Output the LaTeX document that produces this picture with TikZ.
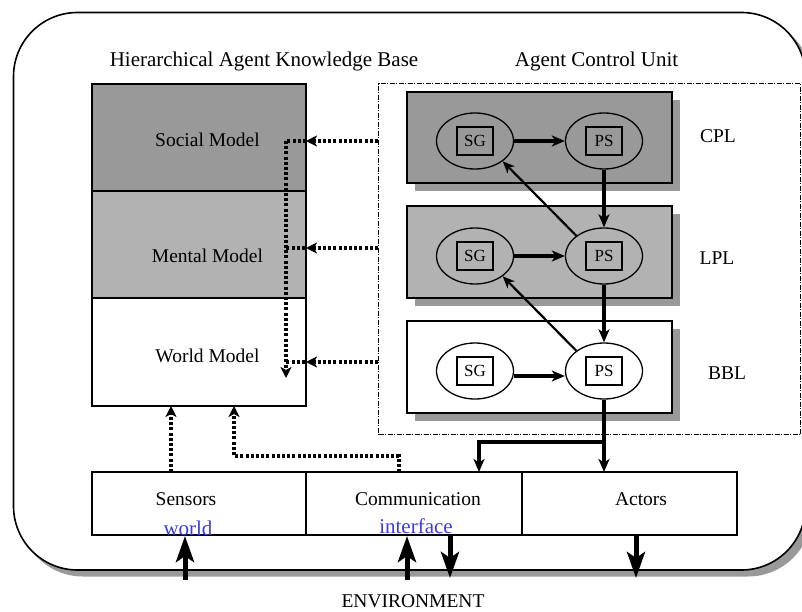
\documentclass[tikz,border=0pt]{standalone}
\usepackage{fontspec}
\setmainfont{Liberation Serif}
\usetikzlibrary{arrows.meta,shapes.geometric,calc}
\definecolor{dgray}{gray}{0.6}
\definecolor{lgray}{gray}{0.7}
\definecolor{lnk}{RGB}{60,60,220}
\begin{document}
\begin{tikzpicture}[x=1pt,y=-1pt,
  txt/.style={font=\fontsize{19.5}{23}\selectfont, anchor=base, inner sep=0pt},
  ttl/.style={font=\fontsize{21}{25}\selectfont, anchor=base, inner sep=0pt},
  box/.style={draw, line width=1.3pt, anchor=north west, inner sep=0pt, outer sep=0pt},
  ell/.style={draw, ellipse, line width=1.3pt, minimum width=77pt, minimum height=56pt, inner sep=0pt},
  sq/.style={draw, line width=2.2pt, minimum width=36pt, minimum height=28pt, inner sep=0pt, font=\fontsize{17}{19}\selectfont},
  thk/.style={line width=3.6pt, -{Stealth[length=13pt,width=11pt,inset=3.5pt]}},
  thn/.style={line width=2.2pt, -{Stealth[length=12pt,width=10pt,inset=3.5pt]}},
  dotl/.style={line width=3.2pt, dash pattern=on 3pt off 2.2pt},
  dota/.style={dotl, -{Stealth[length=11pt,width=11pt,inset=3pt]}},
  big/.style={line width=5pt, -{Stealth[length=26pt,width=18pt,inset=6pt]}},
  acus/.style={draw, line width=1.1pt, dash pattern=on 5pt off 1.5pt on 1pt off 1.5pt}
]
\useasboundingbox (0,0) rectangle (802,612);
\clip (0,0) rectangle (802,612);

% outer frame with shadow
\fill[dgray, rounded corners=64pt] (19,18.5) rectangle (812,576.5);
\node[box, line width=1.6pt, rounded corners=64pt, fill=white, minimum width=792pt, minimum height=557.5pt] (outer) at (13.5,12.5) {};

% titles
\node[ttl] (kbt) at (264,67) {Hierarchical Agent Knowledge Base};
\node[ttl] (acut) at (596.5,67) {Agent Control Unit};

% knowledge base
\node[box, fill=dgray, minimum width=214pt, minimum height=107pt] (social) at (92,84) {};
\node[box, fill=lgray, minimum width=214pt, minimum height=107pt] (mental) at (92,191) {};
\node[box, fill=white, minimum width=214pt, minimum height=108pt] (world) at (92,298) {};
\node[txt] (sm) at (207.5,147) {Social Model};
\node[txt] (mm) at (207.5,262) {Mental Model};
\node[txt] (wm) at (207.5,362) {World Model};

% agent control unit
\node[acus, anchor=north west, minimum width=422pt, minimum height=351pt, inner sep=0pt] (acu) at (378,83) {};

\fill[dgray] (415,100) rectangle (680,191);
\fill[dgray] (415,214) rectangle (680,306);
\fill[dgray] (415,329) rectangle (680,421);
\node[box, fill=dgray, minimum width=265pt, minimum height=91pt] (cpl) at (407,92) {};
\node[box, fill=lgray, minimum width=265pt, minimum height=92pt] (lpl) at (407,206) {};
\node[box, fill=white, minimum width=265pt, minimum height=92pt] (bbl) at (407,321) {};

\node[txt] (cplt) at (718,143) {CPL};
\node[txt] (lplt) at (717,264) {LPL};
\node[txt] (bblt) at (727,379) {BBL};

\node[ell] (cplsg) at (475,141) {};
\node[ell] (cplps) at (604,141) {};
\node[ell] (lplsg) at (475,256) {};
\node[ell] (lplps) at (604,256) {};
\node[ell] (bblsg) at (475,371) {};
\node[ell] (bblps) at (604,371) {};
\node[sq] (cplsgb) at (475,141) {SG};
\node[sq] (cplpsb) at (604,141) {PS};
\node[sq] (lplsgb) at (475,256) {SG};
\node[sq] (lplpsb) at (604,256) {PS};
\node[sq] (bblsgb) at (475,371) {SG};
\node[sq] (bblpsb) at (604,371) {PS};

\draw[thk] (cplsg.east) -- (cplps.west);
\draw[thk] (lplsg.east) -- (lplps.west);
\draw[thk] ($(bblsg.east)+(0,5)$) -- ($(bblps.west)+(0,5)$);
\draw[thk] (cplps.south) -- (lplps.north);
\draw[thk] (lplps.south) -- (bblps.north);
\draw[thn] (lplps.north west) -- (cplsg.south east);
\draw[thn] (bblps.north west) -- (lplsg.south east);

% interface boxes
\node[box, minimum width=214pt, minimum height=63pt] (sens) at (92,472) {};
\node[box, minimum width=216pt, minimum height=63pt] (comm) at (306,472) {};
\node[box, minimum width=215pt, minimum height=63pt] (act) at (522,472) {};
\node[txt] (senst) at (186,505) {Sensors};
\node[txt, text=lnk, font=\fontsize{21}{24}\selectfont] (worldt) at (188,535) {world};
\node[txt] (commt) at (418,505) {Communication};
\node[txt, text=lnk, font=\fontsize{21}{24}\selectfont] (intt) at (416,533) {interface};
\node[txt] (actt) at (641,505) {Actors};

% control output
\coordinate (split) at (604,442);
\coordinate (commin) at (479,472);
\draw[thk] (bblps.south) -- (bblps.south |- act.north);
\draw[thk] (split) -| (commin);

% dotted connections to knowledge base
\coordinate (a1) at (378,141);
\coordinate (a2) at (378,248);
\coordinate (a3) at (378,362);
\coordinate (v1) at (286,141);
\coordinate (v2) at (286,378);
\draw[dota] (a1) -- (a1 -| social.east);
\draw[dota] (a2) -- (a2 -| mental.east);
\draw[dota] (a3) -- (a3 -| world.east);
\draw[dotl] (a1 -| social.east) -- (v1);
\draw[dotl] ($(a2 -| mental.east)+(-1,0)$) -- (a2 -| v1);
\draw[dotl] ($(a3 -| world.east)+(-1,0)$) -- (a3 -| v1);
\draw[dota] (v1) -- (v2);

\coordinate (s1) at (171,472);
\coordinate (c1) at (399,472);
\coordinate (w2) at (234,406);
\draw[dota] (s1) -- (s1 |- world.south);
\draw[dota] (c1) -- ++(0,-16) -| (w2);

% environment arrows
\coordinate (e1) at (185,580);
\coordinate (e2) at (407,580);
\coordinate (e3) at (450,580);
\coordinate (e4) at (636,580);
\draw[big] (e1) -- ($(e1 |- sens.south)+(0,1)$);
\draw[big] (e2) -- ($(e2 |- comm.south)+(0,1)$);
\draw[big] (e3 |- comm.south) -- ($(e3)+(0,-2)$);
\draw[big] (e4 |- act.south) -- ($(e4)+(0,-2)$);

\node[txt] (env) at (413,607) {ENVIRONMENT};
\end{tikzpicture}
\end{document}
